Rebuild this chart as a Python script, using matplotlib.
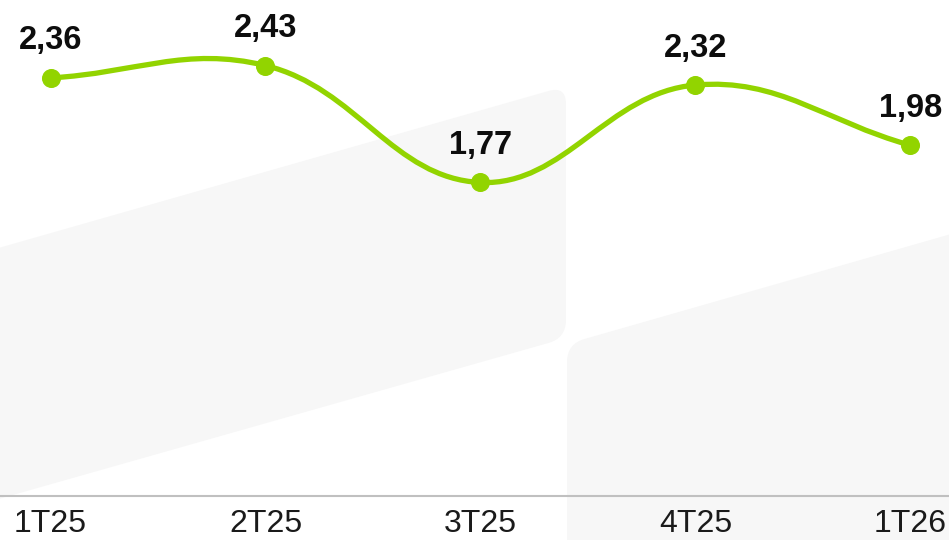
import numpy as np
import matplotlib
matplotlib.use('Agg')
import matplotlib.pyplot as plt
from matplotlib.path import Path
from matplotlib.patches import PathPatch

categories = ['1T25', '2T25', '3T25', '4T25', '1T26']
values = [2.36, 2.43, 1.77, 2.32, 1.98]
value_labels = ['2,36', '2,43', '1,77', '2,32', '1,98']

GREEN = '#92D400'
W, H = 949, 540

plt.rcParams['font.family'] = ['Liberation Sans', 'DejaVu Sans']
fig = plt.figure(figsize=(W / 100, H / 100), dpi=100)
fig.patch.set_facecolor('white')


def rounded_path(pts, r):
    n = len(pts)
    verts, codes = [], []
    for i in range(n):
        p0 = np.array(pts[i - 1], float)
        p1 = np.array(pts[i], float)
        p2 = np.array(pts[(i + 1) % n], float)
        d1 = (p0 - p1) / np.linalg.norm(p0 - p1)
        d2 = (p2 - p1) / np.linalg.norm(p2 - p1)
        a = p1 + d1 * r
        b = p1 + d2 * r
        verts.append(a)
        codes.append(Path.MOVETO if i == 0 else Path.LINETO)
        verts += [p1, b]
        codes += [Path.CURVE3, Path.CURVE3]
    verts.append(verts[0])
    codes.append(Path.CLOSEPOLY)
    verts = [(v[0] / W, 1 - v[1] / H) for v in verts]
    return Path(verts, codes)


# decorative background shapes (pixel coords, y downward)
shape1 = [(-40, 259), (566, 86), (566, 338), (-40, 510)]
shape2 = [(567, 344), (1000, 220), (1000, 620), (567, 620)]
for shp in (shape1, shape2):
    fig.add_artist(PathPatch(rounded_path(shp, 18), facecolor='#f7f7f7',
                             edgecolor='none', transform=fig.transFigure, zorder=0))

ax = fig.add_axes([0, (H - 496) / H, 1, 496 / H])
ax.set_facecolor('none')
ax.set_zorder(1)
x = np.arange(len(categories))
ax.set_xlim(-0.235, 4.18)
ax.set_ylim(0, 2.80)

# Chart.js-like cardinal spline (tension 0.4) in display space
pts = ax.transData.transform(np.column_stack([x, values]))
t = 0.4
n = len(pts)
prev_cp, next_cp = [], []
for i in range(n):
    cur = pts[i]
    pv = pts[i - 1] if i > 0 else cur
    nx = pts[i + 1] if i < n - 1 else cur
    d01 = np.hypot(*(cur - pv))
    d12 = np.hypot(*(nx - cur))
    s01 = d01 / (d01 + d12) if (d01 + d12) > 0 else 0
    s12 = d12 / (d01 + d12) if (d01 + d12) > 0 else 0
    fa, fb = t * s01, t * s12
    prev_cp.append(cur - fa * (nx - pv))
    next_cp.append(cur + fb * (nx - pv))
verts = [pts[0]]
codes = [Path.MOVETO]
for i in range(n - 1):
    verts += [next_cp[i], prev_cp[i + 1], pts[i + 1]]
    codes += [Path.CURVE4] * 3
verts = ax.transData.inverted().transform(np.array(verts))
ax.add_patch(PathPatch(Path(verts, codes), facecolor='none', edgecolor=GREEN,
                       lw=3.8, capstyle='round', zorder=2, clip_on=False))

ax.plot(x, values, 'o', ms=12.7, color=GREEN, zorder=3, clip_on=False)

for xi, v, lbl in zip(x, values, value_labels):
    ax.annotate(lbl, (xi, v), xytext=(0, 20.5), textcoords='offset points',
                ha='center', va='baseline', fontsize=23.5, fontweight='bold',
                color='#0d0d0d', annotation_clip=False)

ax.set_xticks(x, categories)
ax.set_yticks([])
ax.tick_params(axis='x', length=0, pad=9.5, labelsize=23, labelcolor='#1a1a1a')
for s in ('top', 'left', 'right'):
    ax.spines[s].set_visible(False)
ax.spines['bottom'].set_color('#c0c0c0')
ax.spines['bottom'].set_linewidth(1.5)

fig.savefig('out.png', dpi=100)
